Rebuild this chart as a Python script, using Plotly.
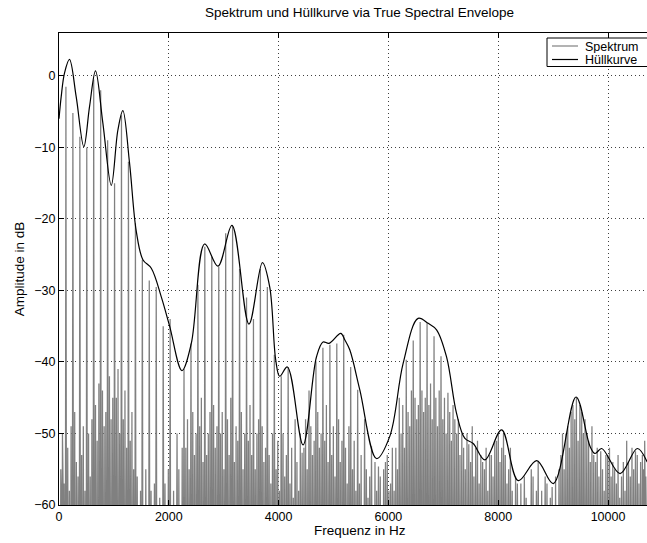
import plotly.graph_objects as go

# ---------------------------------------------------------------------------
# Data
# ---------------------------------------------------------------------------
X_END = 10710          # right end of the frequency axis shown (Hz)
SPEC_FLOOR_DB = -66    # level of the deep notches between spectral lines

# harmonic partials of the analysed tone (Hz)
harm_f = [126, 253, 380, 506, 632, 759, 886, 1012, 1138, 1265,
          1392, 1518, 1644, 1771, 1898, 2024, 2150, 2277, 2404, 2530,
          2656, 2783, 2910, 3036, 3162, 3289, 3416, 3542, 3668, 3795,
          3922, 4048, 4174, 4301, 4428, 4554, 4680, 4807, 4934, 5060,
          5186, 5313, 5440, 5566, 5692, 5819, 5946, 6072, 6198, 6325,
          6452, 6578, 6704, 6831, 6958, 7084, 7210, 7337, 7464, 7590,
          7716, 7843, 7970, 8096, 8222, 8349, 8476, 8602, 8728, 8855,
          8982, 9108, 9234, 9361, 9488, 9614, 9740, 9867, 9994, 10120,
          10246, 10373, 10500, 10626]

# peak level of every partial (dB)
harm_db = [-1.5, -5.2, -8.5, -10, -0.5, -2, -9, -15, -5.5, -12,
           -20.6, -25.7, -28.6, -29.5, -35, -34, -50, -41, -37.4, -29.2,
           -23.9, -25.3, -26.7, -22, -21, -27, -31, -34, -27, -29.5,
           -39, -42, -40.7, -48, -52.7, -44, -39.9, -38, -37.6, -37.4,
           -36.2, -40.7, -43.9, -48, -51.8, -54.6, -54, -52, -45, -39.7,
           -37, -34.4, -34.6, -36.4, -39.2, -44.3, -48, -50, -51.5, -52,
           -54, -53, -51, -50, -52, -57, -56, -55, -54, -56,
           -57.5, -55, -50, -46, -46, -50, -53, -52.5, -53, -55,
           -56, -54, -52.5, -53]

# noise / side-lobe peaks between neighbouring partials (dB), three per gap
gap_db = [
    [-55, -50, -57], [-52, -58, -49], [-47, -54, -56], [-53, -49, -58], [-50, -56, -48],
    [-46, -51, -43], [-44, -49, -47], [-42, -48, -45], [-45, -41, -50], [-48, -44, -52],
    [-51, -47, -55],
    [-56, -61, -58], [-60, -55, -62], [-58, -63, -57], [-62, -59, -64], [-57, -62, -55],
    [-61, -58, -63], [-55, -60, -52],
    [-52, -48, -55], [-47, -53, -50], [-49, -45, -54], [-53, -50, -47], [-46, -52, -49],
    [-50, -47, -55], [-48, -53, -45], [-54, -49, -51], [-47, -55, -50], [-51, -46, -53],
    [-55, -50, -48], [-49, -54, -52], [-53, -57, -50],
    [-55, -51, -58], [-50, -56, -53], [-57, -52, -59], [-54, -58, -50], [-52, -48, -55],
    [-49, -53, -51], [-47, -52, -50], [-51, -46, -54], [-53, -49, -56], [-48, -54, -51],
    [-52, -57, -49], [-55, -51, -58],
    [-57, -53, -60], [-55, -59, -56], [-60, -54, -58], [-56, -61, -55], [-53, -58, -57],
    [-58, -52, -55],
    [-50, -46, -52], [-47, -49, -44], [-45, -48, -46], [-44, -47, -45], [-46, -43, -48],
    [-45, -49, -44], [-48, -45, -50], [-47, -51, -46], [-50, -48, -53],
    [-52, -55, -50], [-54, -49, -56], [-51, -57, -53], [-55, -52, -58], [-53, -56, -51],
    [-50, -54, -52], [-53, -57, -55],
    [-58, -62, -56], [-61, -57, -63], [-59, -64, -60], [-56, -61, -58], [-62, -58, -60],
    [-57, -63, -59], [-60, -56, -62],
    [-53, -50, -55], [-49, -52, -47], [-48, -45, -51], [-47, -50, -48], [-51, -54, -49],
    [-54, -52, -56],
    [-55, -58, -53], [-52, -56, -54], [-57, -53, -59], [-54, -58, -51], [-56, -52, -55],
    [-53, -57, -54], [-55, -51, -56],
]

# spectral envelope (True Envelope estimate), breakpoints in Hz / dB
env_f = [0, 40, 100, 191, 313, 452, 556, 665, 799, 952,
         1072, 1163, 1285, 1407, 1528, 1681, 1863, 2015, 2239, 2410,
         2653, 2895, 3150, 3460, 3705, 3838, 3947, 4020, 4160, 4445,
         4689, 4809, 4919, 5132, 5205, 5296, 5479, 5783, 6025, 6268,
         6541, 6724, 6877, 7059, 7241, 7393, 7544, 7757, 8062, 8365,
         8700, 9003, 9417, 9672, 9763, 9885, 10219, 10534, 10714]
env_db = [-6, -2.9, 0.4, 2.3, -2.9, -9.9, -4.3, 0.7, -6.6, -15.3,
          -7.6, -4.85, -12.2, -21.7, -25.7, -26.9, -30.9, -35, -41.2, -37.4,
          -23.5, -26.6, -20.9, -34.7, -26.1, -29.5, -39.7, -42, -40.7, -51.6,
          -39.3, -37.2, -37.4, -36, -36.9, -38.3, -43.9, -53.5, -50.4, -40.2,
          -33.9, -34.6, -35.5, -39.3, -47.2, -50.7, -51.4, -53.7, -49.5, -56.6,
          -53.8, -57, -44.9, -51.8, -52.8, -52.1, -55.6, -52.1, -54]

x_ticks = [0, 2000, 4000, 6000, 8000, 10000]
y_ticks = [-60, -50, -40, -30, -20, -10, 0]

# ---------------------------------------------------------------------------
# Assemble the line spectrum: narrow partial peaks, side lobes in between
# ---------------------------------------------------------------------------
bounds = [0] + harm_f + [X_END]
spec_x, spec_y = [0.0], [SPEC_FLOOR_DB]
F = SPEC_FLOOR_DB
for i, lobes in enumerate(gap_db):
    a, b = bounds[i], bounds[i + 1]
    if i > 0:
        spec_x.append(a)
        spec_y.append(harm_db[i - 1])
    steps = [0.07, 0.22, 0.26, 0.30, 0.46, 0.50, 0.54, 0.70, 0.74, 0.78, 0.93]
    levels = [F, F, lobes[0], F, F, lobes[1], F, F, lobes[2], F, F]
    for s, lv in zip(steps, levels):
        spec_x.append(a + s * (b - a))
        spec_y.append(lv)

FONT = "Liberation Sans, Arial, Helvetica, sans-serif"
FS = 12.5      # tick labels
FS_LAB = 13.5  # title and axis labels
FS_LEG = 12.5

GRAY = "#808080"

fig = go.Figure()
fig.add_trace(go.Scatter(
    x=spec_x, y=spec_y, mode="lines", name="Spektrum", showlegend=False,
    line=dict(color=GRAY, width=1.25),
))
fig.add_trace(go.Scatter(
    x=env_f, y=env_db, mode="lines", name="Hüllkurve", showlegend=False,
    line=dict(color="#000000", width=1.2, shape="spline", smoothing=1.0),
))

axis_common = dict(
    showline=True, linecolor="black", linewidth=1,
    ticks="inside", ticklen=5, tickcolor="black", tickwidth=1,
    showgrid=True, gridcolor="rgba(0,0,0,0.75)", gridwidth=1, griddash="1px,3px",
    zeroline=False, tickfont=dict(family=FONT, size=FS, color="black"),
)

# plot-area geometry in pixels (for the legend box drawn in paper units)
L, T, W, H = 59, 33, 647 - 59, 543 - 33 - 38


def px_x(p):
    return (p - L) / W


def px_y(p):
    return 1 - (p - T) / H


legend_rows = [("Spektrum", GRAY, 46), ("Hüllkurve", "black", 59.5)]
shapes = [dict(type="rect", xref="paper", yref="paper",
               x0=px_x(547), x1=px_x(700), y0=px_y(66.5), y1=px_y(38),
               line=dict(color="black", width=1), fillcolor="white", layer="above")]
annotations = []
for label, col, yy in legend_rows:
    shapes.append(dict(type="line", xref="paper", yref="paper",
                       x0=px_x(552), x1=px_x(578), y0=px_y(yy), y1=px_y(yy),
                       line=dict(color=col, width=1.2), layer="above"))
    annotations.append(dict(text=label, x=px_x(584), y=px_y(yy), xref="paper", yref="paper",
                            xanchor="left", yanchor="middle", showarrow=False,
                            height=13, borderpad=0,
                            font=dict(family=FONT, size=FS_LEG, color="black")))

annotations.append(dict(text="Frequenz in Hz", x=px_x(359.5), xref="paper",
                        y=px_y(530), yref="paper", yanchor="middle",
                        showarrow=False, font=dict(family=FONT, size=FS_LAB, color="black")))

fig.update_layout(
    width=647, height=543,
    margin=dict(l=L, r=0, t=T, b=38),
    paper_bgcolor="white", plot_bgcolor="white",
    font=dict(family=FONT, size=FS, color="black"),
    title=dict(text="Spektrum und Hüllkurve via True Spectral Envelope",
               x=px_x(359.5), xref="paper", xanchor="center",
               y=1 - 12 / 543, yref="container", yanchor="middle",
               font=dict(family=FONT, size=FS_LAB, color="black")),
    xaxis=dict(range=[0, X_END], tickvals=x_ticks, ticktext=[str(v) for v in x_ticks],
               mirror="ticks", **axis_common),
    yaxis=dict(range=[-60, 6], tickvals=y_ticks, mirror=False,
               title=dict(text="Amplitude in dB", font=dict(family=FONT, size=FS_LAB),
                          standoff=6),
               **axis_common),
    showlegend=False,
    shapes=shapes,
    annotations=annotations,
)

fig.write_html("out.html")
